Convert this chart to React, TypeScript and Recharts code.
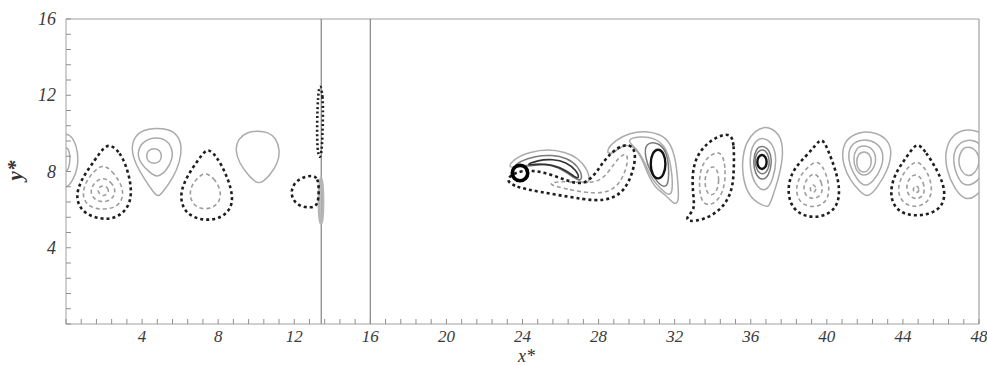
import React from 'react';
import { LineChart, Line, XAxis, YAxis, ReferenceLine } from 'recharts';

// contour lines of x*, y* (each closed loop = list of [x, y] control points)
const A_OUT = [[0, 10.07], [0.42, 9.71], [0.63, 9.03], [0.63, 8.19], [0.37, 7.56], [0, 7.03], [-0.42, 7.56], [-0.53, 8.6], [-0.42, 9.65]];
const A_IN = [[0, 9.39], [0.21, 9.03], [0.21, 8.34], [0, 7.82], [-0.32, 8.6]];

const B_OUT = [[2.31, 9.44], [2.84, 9.02], [3.21, 8.18], [3.42, 7.29], [3.42, 6.51], [3.1, 5.88], [2.47, 5.51], [1.79, 5.51], [1.0, 5.77], [0.58, 6.35], [0.58, 7.03], [0.95, 7.82], [1.52, 8.6], [1.95, 9.23]];
const B_R2 = [[1.95, 8.39], [2.42, 8.03], [2.89, 7.4], [3.05, 6.72], [2.73, 6.14], [1.95, 5.98], [1.16, 6.14], [0.84, 6.72], [1.0, 7.4], [1.47, 8.03]];
const B_R3 = [[1.95, 7.71], [2.37, 7.45], [2.63, 7.03], [2.47, 6.56], [1.95, 6.35], [1.42, 6.56], [1.26, 7.03], [1.52, 7.45]];
const B_R4 = [[1.95, 7.29], [2.22, 7.14], [2.26, 6.9], [1.95, 6.66], [1.68, 6.9], [1.68, 7.14]];

const C_OUT = [[4.68, 10.28], [5.36, 10.23], [5.89, 9.92], [6.1, 9.29], [5.99, 8.5], [5.63, 7.66], [5.1, 6.93], [4.84, 6.66], [4.63, 6.87], [4.15, 7.56], [3.68, 8.34], [3.42, 9.13], [3.58, 9.81], [4.05, 10.18]];
const C_R2 = [[4.68, 9.81], [5.21, 9.71], [5.57, 9.29], [5.63, 8.71], [5.31, 8.08], [4.84, 7.66], [4.42, 7.92], [3.89, 8.45], [3.73, 9.02], [4.05, 9.6]];
const C_R3 = [[4.63, 9.23], [4.94, 9.13], [5.05, 8.81], [4.94, 8.5], [4.63, 8.4], [4.31, 8.5], [4.21, 8.81], [4.31, 9.13]];

const D_OUT = [[7.52, 9.18], [7.94, 8.76], [8.36, 7.98], [8.68, 7.14], [8.78, 6.35], [8.46, 5.77], [7.83, 5.46], [7.05, 5.46], [6.36, 5.77], [6.05, 6.35], [6.05, 7.03], [6.41, 7.82], [6.94, 8.6], [7.26, 9.02]];
const D_R2 = [[7.31, 7.98], [7.78, 7.66], [8.15, 7.03], [8.1, 6.4], [7.62, 6.03], [6.94, 6.03], [6.52, 6.51], [6.52, 7.14], [6.89, 7.66]];

const E_OUT = [[10.09, 10.13], [10.62, 10.07], [11.04, 9.76], [11.25, 9.13], [11.15, 8.45], [10.73, 7.82], [10.3, 7.4], [9.99, 7.4], [9.57, 7.82], [9.1, 8.45], [8.89, 9.13], [9.04, 9.71], [9.52, 10.07]];

const F_OUT = [[12.93, 7.82], [13.25, 7.66], [13.3, 7.03], [13.25, 6.19], [12.83, 6.09], [12.2, 6.19], [11.83, 6.66], [11.88, 7.24], [12.3, 7.66]];
const WALL_DOTS = [[13.35, 12.65], [13.51, 12.02], [13.51, 10.7], [13.46, 9.13], [13.35, 8.6], [13.2, 9.13], [13.2, 10.7], [13.25, 12.02]];
const WALL_SOLID = [[13.41, 7.98], [13.51, 7.03], [13.51, 5.72], [13.41, 5.04], [13.3, 5.72], [13.3, 7.03]];

const CYLINDER = [[24.32, 7.92], [24.19, 8.24], [23.87, 8.37], [23.55, 8.24], [23.42, 7.92], [23.55, 7.6], [23.87, 7.47], [24.19, 7.6]];
const HOOK_OUT = [[23.18, 8.18], [23.61, 8.71], [24.39, 9.02], [25.34, 9.18], [26.24, 9.02], [26.92, 8.71], [27.45, 8.08], [27.55, 7.45], [27.23, 7.35], [26.76, 7.66], [26.24, 8.13], [25.45, 8.4], [24.55, 8.4], [23.76, 8.24]];
const HOOK_IN = [[23.45, 8.18], [23.87, 8.55], [24.66, 8.81], [25.55, 8.87], [26.34, 8.71], [26.92, 8.29], [27.18, 7.66], [26.97, 7.5], [26.5, 7.82], [25.87, 8.24], [25.18, 8.4], [24.29, 8.29]];
const HOOK_CORE = [[24.1, 8.3], [24.8, 8.6], [25.6, 8.65], [26.3, 8.5], [26.85, 8.05], [27.0, 7.62], [26.75, 7.7], [26.3, 8.05], [25.6, 8.35], [24.8, 8.4]];
const WAKE_OUT = [[23.08, 7.55], [23.61, 7.19], [24.89, 6.93], [26.5, 6.66], [27.81, 6.45], [28.71, 6.56], [29.39, 7.03], [29.81, 7.98], [29.97, 8.87], [29.76, 9.39], [29.23, 9.39], [28.71, 9.02], [28.23, 8.5], [27.81, 7.82], [27.18, 7.29], [26.39, 7.5], [25.45, 7.87], [24.5, 8.08], [23.61, 7.98]];
const WAKE_IN = [[25.18, 7.35], [26.5, 7.03], [27.81, 6.82], [28.71, 6.98], [29.23, 7.55], [29.55, 8.45], [29.5, 9.02], [29.07, 8.76], [28.6, 8.08], [28.07, 7.45], [27.13, 7.4], [25.97, 7.5]];

const V31_OUT = [[28.34, 9.02], [28.86, 9.65], [29.65, 10.02], [30.44, 10.13], [31.23, 9.97], [31.76, 9.55], [32.07, 8.6], [32.18, 7.29], [32.23, 6.4], [31.97, 6.24], [31.55, 6.77], [30.97, 7.14], [30.6, 7.82], [30.28, 8.71], [29.81, 9.39], [29.23, 9.39], [28.71, 8.87]];
const V31_R2 = [[29.39, 9.65], [30.18, 9.86], [30.97, 9.76], [31.55, 9.29], [31.81, 8.34], [31.92, 7.14], [31.76, 6.66], [31.34, 7.03], [30.81, 7.55], [30.44, 8.45], [30.02, 9.23]];
const V31_R3 = [[30.44, 9.5], [31.13, 9.55], [31.6, 9.02], [31.71, 8.08], [31.65, 7.14], [31.23, 7.24], [30.71, 7.98], [30.44, 8.76]];
const V31_CORE = [[31.13, 9.23], [31.44, 8.97], [31.55, 8.4], [31.44, 7.82], [31.13, 7.55], [30.81, 7.82], [30.71, 8.4], [30.81, 8.97]];

const V34_OUT = [[34.96, 10.02], [35.12, 9.39], [35.12, 8.34], [35.07, 7.29], [34.81, 6.51], [34.28, 5.88], [33.49, 5.46], [32.7, 5.35], [32.6, 5.61], [33.07, 5.98], [32.97, 6.77], [32.91, 7.82], [33.12, 8.76], [33.65, 9.44], [34.28, 9.86]];
const V34_R1 = [[34.49, 9.13], [34.7, 8.08], [34.59, 6.93], [34.07, 6.24], [33.44, 6.24], [33.28, 7.14], [33.33, 8.18], [33.81, 8.87]];
const V34_R2 = [[34.17, 8.34], [34.38, 7.55], [34.17, 6.77], [33.7, 6.72], [33.54, 7.55], [33.75, 8.18]];

const V36_OUT = [[36.75, 10.39], [37.33, 10.13], [37.65, 9.65], [37.7, 8.71], [37.44, 7.55], [37.12, 6.61], [36.96, 6.09], [36.59, 6.24], [35.96, 6.61], [35.59, 7.55], [35.54, 8.6], [35.75, 9.55], [36.22, 10.13]];
const V36_R2 = [[36.64, 9.81], [37.17, 9.5], [37.38, 8.6], [37.17, 7.55], [36.8, 6.93], [36.33, 7.14], [35.96, 7.98], [35.96, 9.02], [36.22, 9.6]];
const V36_R3 = [[36.59, 9.39], [37.01, 9.13], [37.12, 8.5], [36.96, 7.77], [36.59, 7.5], [36.22, 7.87], [36.12, 8.6], [36.27, 9.18]];
const V36_R4 = [[36.59, 9.23], [36.91, 8.97], [37.01, 8.45], [36.85, 7.92], [36.48, 7.82], [36.22, 8.29], [36.22, 8.87]];
const V36_CORE = [[36.59, 8.92], [36.8, 8.76], [36.85, 8.5], [36.8, 8.24], [36.59, 8.08], [36.38, 8.24], [36.33, 8.5], [36.38, 8.76]];

const V40_OUT = [[39.75, 9.81], [40.06, 9.13], [40.43, 8.18], [40.69, 7.14], [40.59, 6.24], [40.06, 5.72], [39.22, 5.56], [38.43, 5.82], [38.01, 6.45], [37.96, 7.29], [38.22, 8.08], [38.85, 8.76], [39.38, 9.34]];
const V40_R1 = [[39.54, 8.6], [39.96, 7.98], [40.17, 7.03], [39.96, 6.35], [39.33, 6.09], [38.59, 6.3], [38.33, 7.03], [38.59, 7.82], [39.12, 8.34]];
const V40_R2 = [[39.38, 7.98], [39.75, 7.45], [39.8, 6.82], [39.33, 6.51], [38.85, 6.72], [38.75, 7.24], [39.01, 7.71]];
const V40_R3 = [[39.28, 7.4], [39.49, 7.08], [39.28, 6.82], [39.06, 7.08]];

const V42_OUT = [[41.91, 10.13], [42.64, 10.02], [43.22, 9.65], [43.43, 9.02], [43.22, 8.08], [42.64, 7.14], [42.17, 6.61], [41.75, 6.93], [41.22, 7.55], [40.85, 8.34], [40.8, 9.23], [41.12, 9.81]];
const V42_R2 = [[41.96, 9.71], [42.59, 9.55], [43.01, 9.02], [42.9, 8.18], [42.43, 7.45], [42.01, 7.19], [41.59, 7.55], [41.17, 8.34], [41.12, 9.13], [41.43, 9.55]];
const V42_R3 = [[41.91, 9.39], [42.43, 9.23], [42.64, 8.6], [42.38, 7.98], [41.91, 7.71], [41.49, 8.08], [41.38, 8.71], [41.54, 9.23]];
const V42_R4 = [[41.96, 9.08], [42.27, 8.92], [42.38, 8.5], [42.22, 8.08], [41.96, 7.92], [41.64, 8.08], [41.54, 8.5], [41.64, 8.92]];

const V45_OUT = [[44.79, 9.5], [45.21, 9.02], [45.74, 8.18], [46.16, 7.29], [46.21, 6.51], [45.84, 5.93], [45.0, 5.67], [44.11, 5.72], [43.53, 6.14], [43.32, 6.87], [43.53, 7.77], [44.0, 8.5], [44.48, 9.18]];
const V45_R1 = [[44.79, 8.6], [45.32, 7.98], [45.58, 7.03], [45.32, 6.35], [44.64, 6.09], [43.95, 6.35], [43.69, 7.03], [43.95, 7.82], [44.37, 8.34]];
const V45_R2 = [[44.74, 7.92], [45.11, 7.45], [45.16, 6.77], [44.74, 6.51], [44.27, 6.72], [44.16, 7.24], [44.37, 7.71]];
const V45_R3 = [[44.69, 7.35], [44.9, 7.03], [44.69, 6.82], [44.48, 7.03]];

const V48_OUT = [[47.27, 10.23], [47.95, 10.13], [48.58, 9.76], [48.84, 8.87], [48.58, 7.55], [47.79, 6.61], [47.27, 6.51], [46.74, 7.03], [46.27, 8.08], [46.21, 9.13], [46.59, 9.92]];
const V48_R2 = [[47.38, 9.71], [48.06, 9.55], [48.48, 8.71], [48.17, 7.66], [47.38, 7.14], [46.9, 7.55], [46.59, 8.6], [46.8, 9.39]];
const V48_R3 = [[47.38, 9.34], [47.9, 9.13], [48.06, 8.5], [47.79, 7.87], [47.38, 7.71], [47.01, 8.08], [46.9, 8.6], [47.06, 9.13]];

// plates at the wall
const PLATE_X = [13.42, 16];

const X_LABELS = [4, 8, 12, 16, 20, 24, 28, 32, 36, 40, 44, 48];
const Y_LABELS = [4, 8, 12, 16];

// minor ticks every 0.8
const xTicks = Array.from({ length: 61 }, (_, i) => (i * 4) / 5);
const yTicks = Array.from({ length: 21 }, (_, i) => (i * 4) / 5);

const isLabel = (v: number, labels: number[]) => labels.some((l) => Math.abs(l - v) < 1e-6);

const GROUPS = [
  { key: 'sg', stroke: '#ababab', width: 1.5, dash: undefined, lines: [A_OUT, A_IN, C_OUT, C_R2, C_R3, E_OUT, HOOK_OUT, V31_OUT, V31_R2, V36_OUT, V36_R2, V42_OUT, V42_R2, V42_R3, V42_R4, V48_OUT, V48_R2, V48_R3] },
  { key: 'ws', stroke: '#b5b5b5', width: 3, dash: undefined, lines: [WALL_SOLID] },
  { key: 'sm', stroke: '#7a7a7a', width: 1.5, dash: undefined, lines: [HOOK_IN, V31_R3, V36_R3, V36_R4] },
  { key: 'sk', stroke: '#333333', width: 1.6, dash: undefined, lines: [HOOK_CORE] },
  { key: 'gd', stroke: '#9d9d9d', width: 1.6, dash: '4 3', lines: [B_R2, B_R3, B_R4, D_R2, WAKE_IN, V34_R1, V34_R2, V40_R1, V40_R2, V40_R3, V45_R1, V45_R2, V45_R3] },
  { key: 'dd', stroke: '#1e1e1e', width: 2.6, dash: '3 3', lines: [B_OUT, D_OUT, F_OUT, WAKE_OUT, V34_OUT, V40_OUT, V45_OUT] },
  { key: 'wd', stroke: '#1e1e1e', width: 2.6, dash: '2 2.5', lines: [WALL_DOTS] },
  { key: 'sd', stroke: '#111111', width: 2.4, dash: undefined, lines: [V31_CORE, V36_CORE] },
  { key: 'cy', stroke: '#000000', width: 3.6, dash: undefined, lines: [CYLINDER] },
];

const tickFont = { fontFamily: '"Liberation Serif", "Times New Roman", serif', fontStyle: 'italic' as const, fontSize: 17, fill: '#3a3a3a' };

const XTick = ({ x, y, payload }: any) => {
  const v = payload.value;
  return (
    <g>
      <line x1={x} x2={x} y1={y} y2={y - 5} stroke="#8f8f8f" strokeWidth={1} />
      {isLabel(v, X_LABELS) && (
        <text x={x} y={y + 18} textAnchor="middle" {...tickFont}>
          {Math.round(v)}
        </text>
      )}
    </g>
  );
};

const YTick = ({ x, y, payload }: any) => {
  const v = payload.value;
  return (
    <g>
      <line x1={x} x2={x + 5} y1={y} y2={y} stroke="#8f8f8f" strokeWidth={1} />
      {isLabel(v, Y_LABELS) && (
        <text x={x - 10} y={y + 6} textAnchor="end" {...tickFont} fontSize={18}>
          {Math.round(v)}
        </text>
      )}
    </g>
  );
};

export default function App() {
  return (
    <div style={{ position: 'absolute', left: 0, top: 0, width: 987, height: 365, background: '#fff', overflow: 'hidden' }}>
      <LineChart width={987} height={365} margin={{ top: 19, right: 8, bottom: 0, left: 6 }}>
        <XAxis
          type="number"
          dataKey="x"
          domain={[0, 48]}
          allowDataOverflow
          ticks={xTicks}
          interval={0}
          tickSize={0}
          tickMargin={0}
          tickLine={false}
          height={41}
          stroke="#a0a0a0"
          tick={<XTick />}
        />
        <YAxis
          type="number"
          dataKey="y"
          domain={[0, 16]}
          allowDataOverflow
          ticks={yTicks}
          interval={0}
          tickSize={0}
          tickMargin={0}
          tickLine={false}
          width={60}
          stroke="#a0a0a0"
          tick={<YTick />}
        />
        <ReferenceLine y={16} stroke="#a0a0a0" strokeWidth={1.2} />
        <ReferenceLine x={48} stroke="#a0a0a0" strokeWidth={1.2} />
        {PLATE_X.map((px) => (
          <ReferenceLine key={px} x={px} stroke="#8c8c8c" strokeWidth={1.3} />
        ))}
        {GROUPS.flatMap((g) =>
          g.lines.map((pts, i) => (
            <Line
              key={`${g.key}-${i}`}
              data={pts.map(([x, y]) => ({ x, y }))}
              dataKey="y"
              type="basisClosed"
              stroke={g.stroke}
              strokeWidth={g.width}
              strokeDasharray={g.dash}
              strokeLinecap="butt"
              dot={false}
              activeDot={false}
              isAnimationActive={false}
            />
          ))
        )}
      </LineChart>
      <span
        style={{
          position: 'absolute',
          left: 518,
          top: 348,
          fontFamily: '"Liberation Serif", serif',
          fontStyle: 'italic',
          fontSize: 18,
          color: '#333',
          lineHeight: '16px',
        }}
      >
        x*
      </span>
      <span
        style={{
          position: 'absolute',
          left: 6,
          top: 160,
          fontFamily: '"Liberation Serif", serif',
          fontStyle: 'italic',
          fontWeight: 'bold',
          fontSize: 21,
          color: '#333',
          lineHeight: '21px',
          transform: 'rotate(-90deg)',
          transformOrigin: 'center',
        }}
      >
        y*
      </span>
    </div>
  );
}
